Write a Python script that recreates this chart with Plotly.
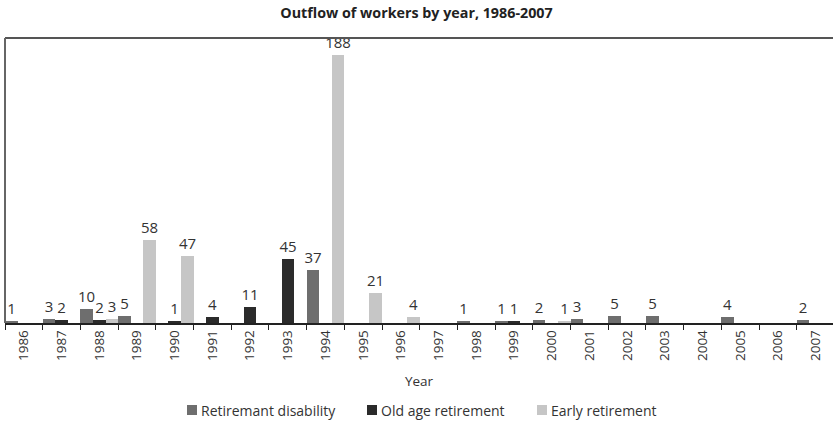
import plotly.graph_objects as go

years = [str(y) for y in range(1986, 2008)]
disability = [1, 3, 10, 5, 0, 0, 0, 0, 37, 0, 0, 0, 1, 1, 2, 3, 5, 5, 0, 4, 0, 2]
old_age    = [0, 2, 2, 0, 1, 4, 11, 45, 0, 0, 0, 0, 0, 1, 0, 0, 0, 0, 0, 0, 0, 0]
early      = [0, 0, 3, 58, 47, 0, 0, 0, 188, 21, 4, 0, 0, 0, 1, 0, 0, 0, 0, 0, 0, 0]

series_names = ["Retiremant disability", "Old age retirement", "Early retirement"]
series_colors = ["#6e6e6e", "#2b2b2b", "#c6c6c6"]
series_values = [disability, old_age, early]

FONT = "Open Sans"
TXT = "#333333"

# plot area in pixels (for the hand-built legend)
L, T, W, H = 5, 38, 828, 285

fig = go.Figure()
for name, vals, col in zip(series_names, series_values, series_colors):
    fig.add_trace(go.Bar(
        x=years, y=vals, name=name, marker=dict(color=col, line=dict(width=0)),
        text=[str(v) if v else "" for v in vals],
        textposition="outside", cliponaxis=False, constraintext="none",
        textfont=dict(family=FONT, size=15, color=TXT),
        outsidetextfont=dict(family=FONT, size=15, color=TXT),
        showlegend=False,
    ))

fig.update_layout(
    width=833, height=421,
    margin=dict(l=L, r=833 - L - W, t=T, b=421 - T - H),
    paper_bgcolor="white", plot_bgcolor="white",
    barmode="group", bargap=0, bargroupgap=0,
    title=dict(text="<b>Outflow of workers by year, 1986-2007</b>",
               x=0.5, xanchor="center", y=1 - 13 / 421, yanchor="middle",
               font=dict(family=FONT, size=14.3, color="#222222")),
    font=dict(family=FONT, color=TXT),
    xaxis=dict(
        type="category", range=[-0.5, 21.46], tickson="boundaries",
        ticks="outside", ticklen=5, tickcolor="#222222", tickwidth=1,
        tickangle=-90, tickfont=dict(family=FONT, size=13.5, color=TXT),
        showline=True, linecolor="#222222", linewidth=1.5,
        showgrid=False, zeroline=False,
        title=dict(text="Year", font=dict(family=FONT, size=13.5, color=TXT), standoff=17),
    ),
    yaxis=dict(range=[0, 200], showticklabels=False, showgrid=False, zeroline=False,
               showline=False, ticks=""),
    showlegend=False,
)
# frame lines (top and left)
fig.add_shape(type="line", xref="paper", yref="paper", x0=0, x1=1, y0=1, y1=1,
              line=dict(color="#555555", width=2))
fig.add_shape(type="line", xref="paper", yref="paper", x0=0, x1=0, y0=0, y1=1,
              line=dict(color="#666666", width=2))

# hand-built legend
def px2paper(x, y):
    return (x - L) / W, (T + H - y) / H

legend_x = [187, 367, 537]
for lx, name, col in zip(legend_x, series_names, series_colors):
    x0, y0 = px2paper(lx, 415)
    x1, y1 = px2paper(lx + 10, 405)
    fig.add_shape(type="rect", xref="paper", yref="paper", x0=x0, x1=x1, y0=y0, y1=y1,
                  line=dict(width=0), fillcolor=col)
    tx, ty = px2paper(lx + 12, 410)
    fig.add_annotation(xref="paper", yref="paper", x=tx, y=ty, text=name,
                       showarrow=False, xanchor="left", yanchor="middle",
                       font=dict(family=FONT, size=14, color=TXT))

fig.write_html("out.html", config={"displayModeBar": False},
               post_script="document.body.style.margin='0';document.body.style.padding='0';")
